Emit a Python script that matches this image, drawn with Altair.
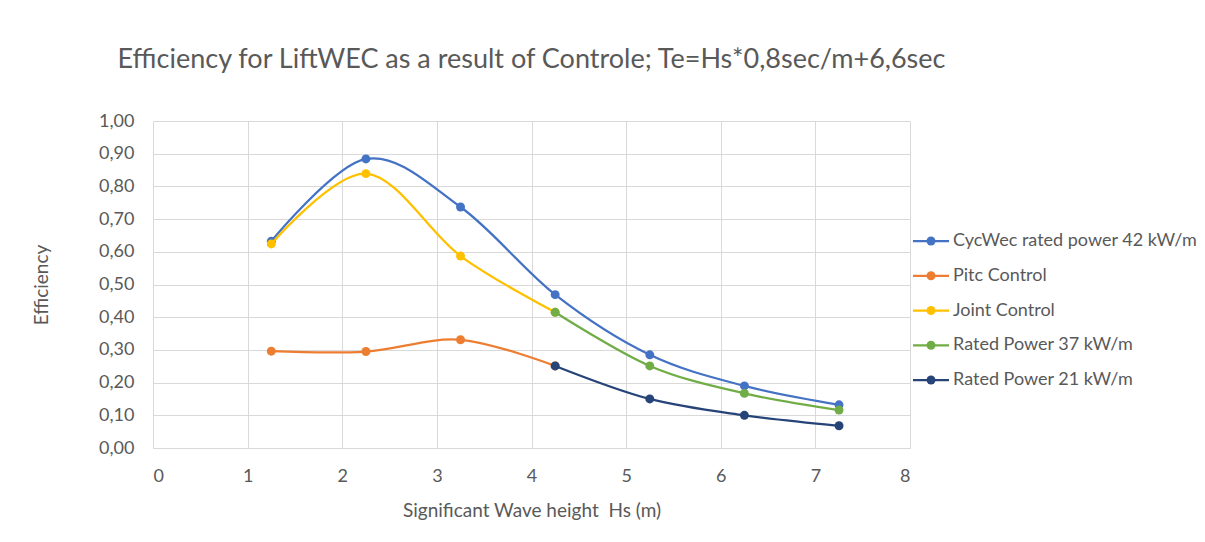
import altair as alt
import pandas as pd

names = ["CycWec rated power 42 kW/m", "Pitc Control", "Joint Control",
         "Rated Power 37 kW/m", "Rated Power 21 kW/m"]
colors = ["#4472C4", "#ED7D31", "#FFC000", "#70AD47", "#264478"]

hs_all = [1.25, 2.25, 3.25, 4.25, 5.25, 6.25, 7.25]
hs_low = [1.25, 2.25, 3.25, 4.25]
hs_high = [4.25, 5.25, 6.25, 7.25]

cyc = [0.632, 0.884, 0.737, 0.469, 0.285, 0.190, 0.132]
pitc = [0.296, 0.295, 0.331, 0.251]
joint = [0.624, 0.839, 0.587, 0.415]
rp37 = [0.415, 0.251, 0.167, 0.116]
rp21 = [0.251, 0.150, 0.100, 0.068]

series = [(hs_all, cyc), (hs_low, pitc), (hs_low, joint), (hs_high, rp37), (hs_high, rp21)]

FONT = "Lato"
GREY = "#595959"

xscale = alt.Scale(domain=[0, 8], nice=False)
yscale = alt.Scale(domain=[0, 1], nice=False)

layers = []
for i, (xs, ys) in enumerate(series):
    df = pd.DataFrame({"hs": xs, "eff": ys, "series": names[i]})
    base = alt.Chart(df).encode(
        x=alt.X("hs:Q", scale=xscale,
                axis=alt.Axis(values=list(range(0, 9)),
                              title="Significant Wave height\u00a0\u00a0Hs (m)",
                              format="d")),
        y=alt.Y("eff:Q", scale=yscale,
                axis=alt.Axis(values=[round(v * 0.1, 1) for v in range(0, 11)], title="Efficiency",
                              labelExpr="replace(format(datum.value, '.2f'), '.', ',')")),
    )
    layers.append(base.mark_line(color=colors[i], strokeWidth=2.25, interpolate="cardinal"))
    layers.append(base.mark_circle(color=colors[i], size=80, opacity=1))

main = alt.layer(*layers).properties(width=757, height=327)

leg_df = pd.DataFrame({"name": names})
ly = alt.Y("name:N", scale=alt.Scale(type="point", domain=names, range=[120, 259], padding=0), axis=None)
lc = alt.Color("name:N", scale=alt.Scale(domain=names, range=colors), legend=None)
leg_base = alt.Chart(leg_df).encode(y=ly, color=lc)
legend = alt.layer(
    leg_base.mark_rule(strokeWidth=2.25).encode(x=alt.value(0), x2=alt.value(36)),
    leg_base.mark_circle(size=80, opacity=1).encode(x=alt.value(18)),
    leg_base.mark_text(align="left", baseline="middle", font=FONT, fontSize=18, color=GREY)
    .encode(x=alt.value(40), text="name:N", color=alt.value(GREY)),
).properties(width=288, height=327)

chart = alt.hconcat(main, legend, spacing=0).properties(
    title=alt.TitleParams(
        "Efficiency for LiftWEC as a result of Controle; Te=Hs*0,8sec/m+6,6sec",
        anchor="start", font=FONT, fontSize=27, fontWeight="normal", color=GREY,
        offset=38, dx=85,
    ),
    padding={"left": 32, "top": 46, "right": 0, "bottom": 0},
    background="white",
).configure_view(stroke=None).configure_axis(
    gridColor="#D9D9D9", gridWidth=1, domainColor="#D9D9D9", domainWidth=1,
    tickSize=0, labelFont=FONT, labelFontSize=18, labelColor=GREY,
    titleFont=FONT, titleFontSize=19, titleColor=GREY, titleFontWeight="normal",
    labelPadding=19,
).configure_axisY(titlePadding=47, domain=False).configure_axisX(labelPadding=19, titlePadding=16)

chart.save("out.html", embed_options={"renderer": "svg", "actions": False})
